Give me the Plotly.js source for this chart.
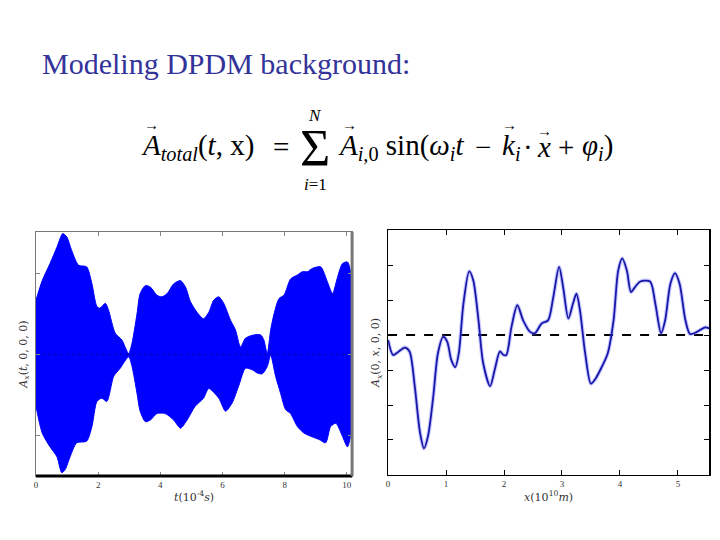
<!DOCTYPE html>
<html>
<head>
<meta charset="utf-8">
<script src="https://cdn.plot.ly/plotly-3.0.1.min.js"></script>
<style>html,body{margin:0;padding:0;background:#fff;}#chart{width:720px;height:540px;}</style>
</head>
<body>
<div id="chart"></div>
<script>
// Left panel: envelope of the oscillating field A_x(t,0,0,0), t in units of 1e-4 s
const tUpper = [0,0.2,0.45,0.67,0.86,0.99,1.15,1.37,1.63,1.8,1.96,2.06,2.23,2.33,2.55,2.76,2.98,3.09,3.25,3.35,3.52,3.68,3.89,4.05,4.22,4.43,4.65,4.81,4.97,5.18,5.39,5.56,5.72,5.88,6.04,6.26,6.42,6.58,6.74,7.01,7.23,7.33,7.44,7.55,7.66,7.82,7.98,8.19,8.41,8.57,8.73,8.89,9.16,9.38,9.54,9.70,9.86,10.02,10.17];
const envUpper = [0.67,0.91,1.12,1.32,1.49,1.45,1.28,1.10,1.08,0.87,0.59,0.57,0.63,0.55,0.26,0.18,0.01,0.14,0.50,0.75,0.85,0.83,0.73,0.71,0.75,0.87,0.91,0.83,0.65,0.52,0.44,0.52,0.67,0.71,0.63,0.42,0.30,0.09,0.20,0.24,0.24,0.18,0.01,0.30,0.50,0.69,0.73,0.93,0.98,1.02,1.02,1.06,1.08,0.89,0.75,0.95,1.12,1.14,0.91];
const tLower = [0,0.2,0.45,0.67,0.83,0.94,1.10,1.31,1.63,1.8,1.96,2.12,2.28,2.5,2.71,2.98,3.09,3.25,3.35,3.52,3.68,3.89,4.16,4.43,4.65,4.86,5.12,5.39,5.56,5.88,6.1,6.31,6.53,6.74,6.96,7.12,7.28,7.44,7.55,7.71,7.87,8.03,8.19,8.41,8.62,8.84,9.11,9.32,9.48,9.65,9.86,10.02,10.17];
const envLower = [-0.64,-0.97,-1.14,-1.26,-1.46,-1.42,-1.26,-1.09,-1.07,-0.89,-0.58,-0.54,-0.58,-0.27,-0.17,-0.03,-0.15,-0.48,-0.70,-0.83,-0.81,-0.73,-0.73,-0.81,-0.91,-0.81,-0.64,-0.54,-0.42,-0.54,-0.70,-0.60,-0.38,-0.17,-0.19,-0.23,-0.24,-0.15,-0.01,-0.27,-0.48,-0.68,-0.73,-0.89,-0.97,-1.01,-1.05,-1.09,-0.89,-0.85,-1.01,-1.14,-0.89];
const tTicks = [0,2,4,6,8,10];

// Right panel: A_x(0,x,0,0), x in units of 1e10 m
const xPos = [0,0.086,0.17,0.29,0.37,0.46,0.55,0.62,0.69,0.78,0.86,0.95,1.02,1.09,1.16,1.22,1.30,1.40,1.47,1.56,1.64,1.76,1.84,1.93,1.99,2.04,2.13,2.23,2.33,2.45,2.53,2.65,2.76,2.85,2.95,3.02,3.11,3.19,3.25,3.31,3.40,3.50,3.57,3.69,3.79,3.89,3.97,4.04,4.12,4.19,4.26,4.35,4.52,4.61,4.71,4.78,4.87,4.95,5.03,5.13,5.21,5.33,5.47,5.54];
const fieldX = [-0.14,-0.57,-0.49,-0.36,-0.47,-1.46,-2.78,-3.24,-2.88,-1.75,-0.52,-0.05,-0.19,-0.71,-0.92,-0.52,0.90,1.82,1.56,0.42,-0.80,-1.46,-0.99,-0.47,-0.57,-0.57,0.24,0.85,0.42,0.09,0.05,0.33,0.42,1.08,1.95,1.37,0.47,0.90,1.18,0.71,-0.52,-1.39,-1.27,-0.90,-0.52,0.42,1.84,2.19,1.84,1.23,1.37,1.53,1.53,0.90,0.05,0.42,1.46,1.77,1.46,0.42,0.03,0.09,0.22,0.19];
const xTicks = [0,1,2,3,4,5];
const yTicksRight = [-3,-2,-1,0,1,2];

const polyX = tUpper.concat(tLower.slice().reverse());
const polyY = envUpper.concat(envLower.slice().reverse());

const serif = '"Liberation Serif", "DejaVu Serif", serif';
const mathFont = '"Liberation Serif", "DejaVu Serif", serif';

const traces = [
  {x: polyX, y: polyY, xaxis:'x', yaxis:'y', type:'scatter', mode:'lines', fill:'toself',
   fillcolor:'#0000ff', line:{color:'#0000ff', width:1, shape:'spline', smoothing:0.7}, hoverinfo:'skip'},
  {x:[0,10.17], y:[0,0], xaxis:'x', yaxis:'y', mode:'lines', line:{color:'rgba(0,0,90,0.5)', width:1, dash:'dot'}, hoverinfo:'skip'},
  {x:[0,5.54], y:[0,0], xaxis:'x2', yaxis:'y2', mode:'lines', line:{color:'#000', width:2, dash:'dash'}, hoverinfo:'skip'},
  {x: xPos, y: fieldX, xaxis:'x2', yaxis:'y2', mode:'lines', line:{color:'rgba(100,100,255,0.35)', width:4, shape:'spline', smoothing:0.8}, hoverinfo:'skip'},
  {x: xPos, y: fieldX, xaxis:'x2', yaxis:'y2', mode:'lines', line:{color:'#1818a8', width:1.8, shape:'spline', smoothing:0.8}, hoverinfo:'skip'}
];

const tickFont = {family: serif, size: 9, color:'#333'};
const titleFont = {family: '"DejaVu Serif", serif', size: 11, color:'#333'};

function ann(text, px, py, size, xanchor) {
  return {text:text, xref:'paper', yref:'paper', x:px/720, y:1-py/540, xanchor:xanchor||'left', yanchor:'middle',
    showarrow:false, font:{family:mathFont, size:size, color:'#000'}};
}

const eqSize = 29;
const arrowY = 125;
const layout = {
  width:720, height:540, margin:{l:0,r:0,t:0,b:0},
  paper_bgcolor:'#fff', plot_bgcolor:'#fff', showlegend:false,
  xaxis:{domain:[0.05,0.489], range:[0,10.17], tickvals:tTicks, ticks:'inside', ticklen:4, tickcolor:'#888',
         showline:true, linecolor:'#777', linewidth:1, mirror:'ticks', showgrid:false, zeroline:false,
         tickfont:tickFont, title:{text:'<i>t</i>(10<sup>-4</sup><i>s</i>)', font:titleFont, standoff:4}},
  yaxis:{domain:[0.1185,0.5704], range:[-1.5,1.51], tickvals:[-1,0,1], showticklabels:false, ticks:'inside', ticklen:4, tickcolor:'#888',
         showline:true, linecolor:'#777', linewidth:1, mirror:'ticks', showgrid:false, zeroline:false,
         title:{text:'<i>A<sub>x</sub></i>(<i>t</i>, 0, 0, 0)', font:titleFont, standoff:5}},
  xaxis2:{domain:[0.539,0.985], range:[0,5.54], tickvals:xTicks, ticks:'inside', ticklen:5, tickcolor:'#000',
         showline:true, linecolor:'#000', linewidth:1.5, mirror:'ticks', showgrid:false, zeroline:false, anchor:'y2',
         tickfont:tickFont, title:{text:'<i>x</i>(10<sup>10</sup><i>m</i>)', font:titleFont, standoff:4}},
  yaxis2:{domain:[0.1204,0.574], range:[-4,3], tickvals:yTicksRight, showticklabels:false, ticks:'inside', ticklen:5, tickcolor:'#000',
         showline:true, linecolor:'#000', linewidth:1.5, mirror:'ticks', showgrid:false, zeroline:false, anchor:'x2',
         title:{text:'<i>A<sub>x</sub></i>(0, <i>x</i>, 0, 0)', font:titleFont, standoff:4}},
  shapes:[
    {type:'line', xref:'x domain', yref:'y domain', x0:0, x1:1, y0:0, y1:0, line:{color:'#000', width:3}},
    {type:'line', xref:'x domain', yref:'y domain', x0:1, x1:1, y0:0, y1:1, line:{color:'#777', width:3}}
  ],
  annotations:[
    {text:'Modeling DPDM background:', xref:'paper', yref:'paper', x:40/720, y:1-63/540, xanchor:'left', yanchor:'middle',
     showarrow:false, font:{family:serif, size:30, color:'#333399'}},
    ann('<i>A</i><sub><i>total</i></sub>(<i>t</i>, x)', 139, 147, eqSize),
    ann('=', 281, 147, eqSize, 'center'),
    ann('→', 151, arrowY, 15, 'center'),
    ann('Σ', 315, 148, 52, 'center'),
    ann('<i>N</i>', 315, 115, 17, 'center'),
    ann('<i>i</i>=1', 315, 184, 17, 'center'),
    ann('<i>A</i><sub><i>i</i>,0</sub> sin(<i>ω<sub>i</sub>t</i>', 336, 147, eqSize),
    ann('→', 349, arrowY, 15, 'center'),
    ann('−', 483, 147, eqSize, 'center'),
    ann('<i>k</i><sub><i>i</i></sub>', 500, 147, eqSize),
    ann('→', 509, arrowY, 15, 'center'),
    ann('·', 528, 147, eqSize, 'center'),
    ann('<i>x</i>', 535, 147, eqSize),
    ann('→', 544, arrowY + 6, 15, 'center'),
    ann('+', 566, 147, eqSize, 'center'),
    ann('<i>φ<sub>i</sub></i>)', 580, 147, eqSize)
  ]
};

Plotly.newPlot('chart', traces, layout, {staticPlot:true, displayModeBar:false});
</script>
</body>
</html>
